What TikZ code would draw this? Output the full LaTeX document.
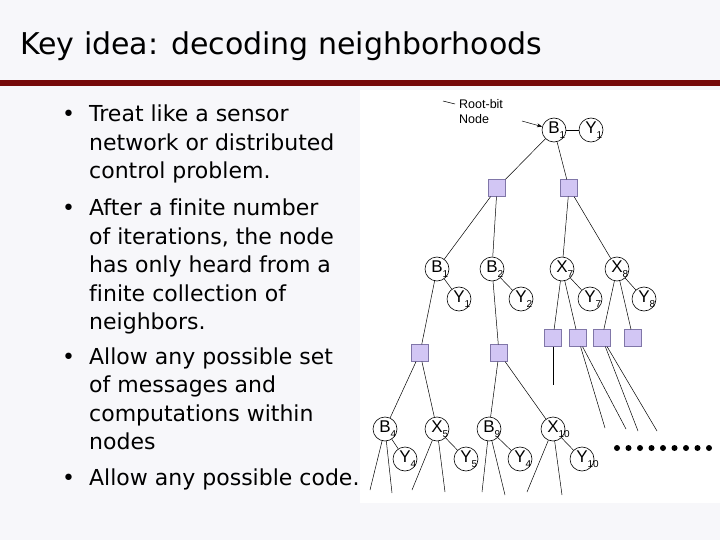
\documentclass[tikz,border=0pt]{standalone}
\usepackage{fontspec}
\setmainfont{DejaVu Sans}[Ligatures=NoCommon]
\newfontfamily\treefont{Liberation Sans}
\usetikzlibrary{arrows.meta}
\definecolor{slidebg}{RGB}{247,247,250}
\definecolor{rulered}{RGB}{118,10,10}
\definecolor{checkfill}{RGB}{210,198,244}
\definecolor{checkdraw}{RGB}{128,118,168}
\newcommand{\nsub}[1]{\rlap{\raisebox{-5pt}{\fontsize{10}{10}\selectfont #1}}}

\begin{document}
\begin{tikzpicture}[x=1pt,y=-1pt]
		\fill[slidebg] (0,0) rectangle (720,540);
		\useasboundingbox (0,0) rectangle (720,540);
		\fill[white] (360,90) rectangle (720,503);
		\fill[rulered] (0,80) rectangle (720,86);

		\node[anchor=base west,inner sep=0pt,font=\fontsize{30}{36}\selectfont] (title) at (20,55) {Key idea: decoding neighborhoods};

		% base anchor sits on the last line of each item
		\begin{scope}[every node/.style={anchor=base west,inner sep=0pt,align=left,
		              font=\fontsize{22}{28.5}\selectfont}]
		    \node (bul1) at (89,179) {\llap{\textbullet\hspace{14pt}}Treat like a sensor\\network or distributed\\control problem.};
		    \node (bul2) at (89,329.7) {\llap{\textbullet\hspace{14pt}}After a finite number\\of iterations, the node\\has only heard from a\\finite collection of\\neighbors.};
		    \node (bul3) at (89,449.5) {\llap{\textbullet\hspace{14pt}}Allow any possible set\\of messages and\\computations within\\nodes};
		    \node (bul4) at (89,485.7) {\llap{\textbullet\hspace{14pt}}Allow any possible code.};
		\end{scope}

		\begin{scope}[every node/.style={circle,draw,line width=0.6pt,fill=white,minimum size=24pt,inner sep=0pt,
		              font=\treefont\fontsize{17}{17}\selectfont}]
		    \node (B0) at (554,130) {B\nsub{1}};
		    \node (Y0) at (591,130) {Y\nsub{1}};
		    \node (B1) at (437,269) {B\nsub{1}};
		    \node (B2) at (492,269) {B\nsub{2}};
		    \node (X7) at (562,269) {X\nsub{7}};
		    \node (X8) at (617,269) {X\nsub{8}};
		    \node (Y1) at (459,299) {Y\nsub{1}};
		    \node (Y2) at (521,299) {Y\nsub{2}};
		    \node (Y7) at (590,299) {Y\nsub{7}};
		    \node (Y8) at (644,299) {Y\nsub{8}};
		    \node (B4) at (385,429) {B\nsub{4}};
		    \node (X5) at (437,429) {X\nsub{5}};
		    \node (B9) at (489,429) {B\nsub{9}};
		    \node (X10) at (553,429) {X\nsub{10}};
		    \node (Y4) at (405,459) {Y\nsub{4}};
		    \node (Y5) at (466,459) {Y\nsub{5}};
		    \node (Y9) at (520,459) {Y\nsub{4}};
		    \node (Y10) at (582,459) {Y\nsub{10}};
		\end{scope}

		\begin{scope}[every node/.style={rectangle,draw=checkdraw,fill=checkfill,minimum size=17pt,inner sep=0pt}]
		    \node (ch1) at (497,188) {};
		    \node (ch2) at (569,188) {};
		    \node (ch3) at (420,353) {};
		    \node (ch4) at (499,353) {};
		    \node (ch5) at (553,338) {};
		    \node (ch6) at (578,338) {};
		    \node (ch7) at (602,338) {};
		    \node (ch8) at (633,338) {};
		\end{scope}

		% loose ends going further down the tree
		\coordinate (e1) at (553,385);
		\coordinate (e2) at (605,428);
		\coordinate (e3) at (626,429);
		\coordinate (e4) at (638,431);
		\coordinate (e5) at (657,431);
		\coordinate (e6) at (370,490);
		\coordinate (e7) at (392,493);
		\coordinate (e8) at (412,490);
		\coordinate (e9) at (445,492);
		\coordinate (e10) at (482,492);
		\coordinate (e11) at (505,495);
		\coordinate (e12) at (527,492);
		\coordinate (e13) at (562,495);

		\node[anchor=west,inner sep=0pt,align=left,font=\treefont\fontsize{12.5}{15}\selectfont] (rootlbl) at (459,112) {Root-bit\\Node};
		\coordinate (m1) at (443,101);
		\coordinate (m2) at (455,104);
		\coordinate (ra) at (522,121);

		\begin{scope}[>={Stealth[black]},
		              every edge/.style={draw=black,line width=0.5pt}]
		    	\path (m1) edge (m2);
		    	\path (ra) edge[->] (B0);
		    	\path (B0) edge (Y0);
		    	\path (B0) edge (ch1);
		    	\path (B0) edge (ch2);
		    	\path (ch1) edge (B1);
		    	\path (ch1) edge (B2);
		    	\path (ch2) edge (X7);
		    	\path (ch2) edge (X8);
		    	\path (B1) edge (Y1);
		    	\path (B2) edge (Y2);
		    	\path (X7) edge (Y7);
		    	\path (X8) edge (Y8);
		    	\path (B1) edge (ch3);
		    	\path (B2) edge (ch4);
		    	\path (X7) edge (ch5);
		    	\path (X7) edge (ch6);
		    	\path (X8) edge (ch7);
		    	\path (X8) edge (ch8);
		    	\path (ch3) edge (B4);
		    	\path (ch3) edge (X5);
		    	\path (ch4) edge (B9);
		    	\path (ch4) edge (X10);
		    	\path (B4) edge (Y4);
		    	\path (X5) edge (Y5);
		    	\path (B9) edge (Y9);
		    	\path (X10) edge (Y10);
		    	\path (ch5) edge (e1);
		    	\path (ch6) edge (e2);
		    	\path (ch6) edge (e3);
		    	\path (ch7) edge (e4);
		    	\path (ch7) edge (e5);
		    	\path (B4) edge (e6);
		    	\path (B4) edge (e7);
		    	\path (X5) edge (e8);
		    	\path (X5) edge (e9);
		    	\path (B9) edge (e10);
		    	\path (B9) edge (e11);
		    	\path (X10) edge (e12);
		    	\path (X10) edge (e13);
		\end{scope}

		\foreach \i in {0,...,8}
		    \fill (617+\i*11.5,448) circle (3pt);
\end{tikzpicture}
\end{document}
